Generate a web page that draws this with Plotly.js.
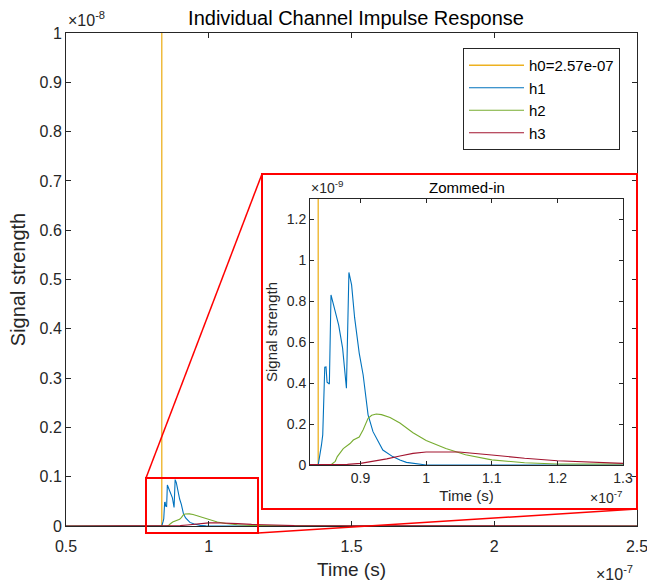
<!DOCTYPE html>
<html>
<head>
<meta charset="utf-8">
<script src="https://cdn.plot.ly/plotly-3.0.1.min.js"></script>
<style>html,body{margin:0;padding:0;background:#fff}#chart{width:647px;height:584px}</style>
</head>
<body>
<div id="chart"></div>
<script>
// Time in units of 1e-7 s, amplitudes in units of 1e-9
const h0Time = 0.8355;
const h0Value = 257;            // h0 = 2.57e-07
const h0Label = 'h0=2.57e-07';

const h1Time = [0.5, 0.8355, 0.8405, 0.8424, 0.8455, 0.8474, 0.8490, 0.8525, 0.8550, 0.8560, 0.8600, 0.8667, 0.8727, 0.8785, 0.8823, 0.8864, 0.8910, 0.8980, 0.9040, 0.9115, 0.9190, 0.9290, 0.9340, 0.9490, 0.9600, 0.9700, 0.9900, 1.0000, 2.5];
const h1Val  = [0, 0, 0.098, 0.147, 0.478, 0.479, 0.405, 0.396, 0.831, 0.818, 0.765, 0.684, 0.571, 0.375, 0.941, 0.880, 0.720, 0.547, 0.440, 0.245, 0.163, 0.098, 0.073, 0.041, 0.024, 0.013, 0.003, 0, 0];

const h2Time = [0.5, 0.848, 0.856, 0.8615, 0.8646, 0.8737, 0.884, 0.889, 0.898, 0.904, 0.9115, 0.917, 0.924, 0.932, 0.945, 0.96, 0.98, 1.0, 1.03, 1.06, 1.1, 1.15, 1.2, 1.3, 1.45, 1.7, 2.5];
const h2Val  = [0, 0, 0.004, 0.018, 0.041, 0.080, 0.105, 0.122, 0.137, 0.172, 0.228, 0.243, 0.249, 0.246, 0.232, 0.205, 0.158, 0.120, 0.081, 0.050, 0.025, 0.011, 0.005, 0.002, 0.001, 0, 0];

const h3Time = [0.5, 0.86, 0.88, 0.9, 0.925, 0.94, 0.96, 0.98, 1.0, 1.025, 1.05, 1.1, 1.15, 1.2, 1.25, 1.3, 1.4, 1.6, 2.0, 2.5];
const h3Val  = [0, 0.001, 0.003, 0.008, 0.020, 0.030, 0.044, 0.057, 0.0635, 0.065, 0.0635, 0.049, 0.033, 0.021, 0.013, 0.008, 0.004, 0.001, 0, 0];

const seriesNames = ['h1', 'h2', 'h3'];
const seriesColors = ['#0072BD', '#77AC30', '#A2142F'];
const h0Color = '#EDB120';

// Tick labels
const mainXTicks = [0.5, 1, 1.5, 2, 2.5];
const mainXText  = ['0.5', '1', '1.5', '2', '2.5'];
const mainYTicks = [0, 0.1, 0.2, 0.3, 0.4, 0.5, 0.6, 0.7, 0.8, 0.9, 1];
const mainYText  = ['0', '0.1', '0.2', '0.3', '0.4', '0.5', '0.6', '0.7', '0.8', '0.9', '1'];
const insetXTicks = [0.9, 1, 1.1, 1.2, 1.3];
const insetXText  = ['0.9', '1', '1.1', '1.2', '1.3'];
const insetYTicks = [0, 0.2, 0.4, 0.6, 0.8, 1, 1.2];
const insetYText  = ['0', '0.2', '0.4', '0.6', '0.8', '1', '1.2'];

const F = 'Liberation Sans, Arial, Helvetica, sans-serif';
const TC = '#262626';

const times = [h1Time, h2Time, h3Time];
const vals = [h1Val, h2Val, h3Val];

const traces = [];
// main axes (y shown in units of 1e-8)
traces.push({x: [h0Time, h0Time], y: [0, h0Value / 10], type: 'scatter', mode: 'lines', name: h0Label,
  line: {color: h0Color, width: 1.3}, xaxis: 'x', yaxis: 'y'});
for (let i = 0; i < 3; i++) {
  traces.push({x: times[i], y: vals[i].map(v => v / 10), type: 'scatter', mode: 'lines', name: seriesNames[i],
    line: {color: seriesColors[i], width: 1.1}, xaxis: 'x', yaxis: 'y'});
}
// inset axes (y in units of 1e-9)
traces.push({x: [h0Time, h0Time], y: [0, h0Value], type: 'scatter', mode: 'lines', showlegend: false,
  line: {color: h0Color, width: 1.3}, xaxis: 'x2', yaxis: 'y2'});
for (let i = 0; i < 3; i++) {
  traces.push({x: times[i], y: vals[i], type: 'scatter', mode: 'lines', showlegend: false,
    line: {color: seriesColors[i], width: 1.1}, xaxis: 'x2', yaxis: 'y2'});
}

function axis(extra) {
  return Object.assign({
    showline: true, linecolor: TC, linewidth: 1, mirror: 'ticks',
    ticks: 'inside', ticklen: 5, tickcolor: TC, tickwidth: 1,
    showgrid: false, zeroline: false, fixedrange: true,
    tickmode: 'array', ticklabeloverflow: 'allow',
    tickfont: {family: F, size: 16, color: TC}
  }, extra);
}

// plot area: x 66..637, y 33..526 (pixels)
const L = 66, R = 637, T = 33, B = 526, W = 647, H = 584;
const px = v => (v - L) / (R - L);
const py = v => (B - v) / (B - T);

const redLine = {color: '#FF0000', width: 2};

const layout = {
  width: W, height: H,
  margin: {l: L, r: W - R, t: T, b: H - B},
  paper_bgcolor: '#fff', plot_bgcolor: '#fff',
  showlegend: true,
  title: {text: 'Individual Channel Impulse Response', font: {family: F, size: 20, color: '#000'},
    x: px(356), xref: 'paper', xanchor: 'center', y: 1 - 18 / H, yref: 'container', yanchor: 'middle'},
  xaxis: axis({domain: [0, 1], range: [0.5, 2.5], anchor: 'y', tickvals: mainXTicks, ticktext: mainXText,
    ticklabelstandoff: 6,
    title: {text: 'Time (s)', font: {family: F, size: 19, color: TC}, standoff: 8}}),
  yaxis: axis({domain: [0, 1], range: [0, 1], anchor: 'x', tickvals: mainYTicks, ticktext: mainYText,
    title: {text: 'Signal strength', font: {family: F, size: 20, color: TC}, standoff: 8}}),
  xaxis2: axis({domain: [px(310), px(623)], range: [0.823, 1.3], anchor: 'y2', ticklen: 4,
    tickvals: insetXTicks, ticktext: insetXText, tickfont: {family: F, size: 14, color: TC},
    title: {text: 'Time (s)', font: {family: F, size: 15, color: TC}, standoff: 5}}),
  yaxis2: axis({domain: [py(465), py(199)], range: [0, 1.3], anchor: 'x2', ticklen: 4,
    tickvals: insetYTicks, ticktext: insetYText, tickfont: {family: F, size: 14, color: TC},
    title: {text: 'Signal strength', font: {family: F, size: 15, color: TC}, standoff: 5}}),
  legend: {x: px(463), y: py(48), xanchor: 'left', yanchor: 'top', xref: 'paper', yref: 'paper',
    itemwidth: 55,
    bgcolor: '#fff', bordercolor: TC, borderwidth: 1, font: {family: F, size: 15, color: '#000'}},
  shapes: [
    {type: 'rect', xref: 'paper', yref: 'paper', x0: px(146), x1: px(258), y0: py(533), y1: py(478), line: redLine},
    {type: 'rect', xref: 'paper', yref: 'paper', x0: px(262), x1: px(637), y0: py(509), y1: py(174), line: redLine},
    {type: 'line', xref: 'paper', yref: 'paper', x0: px(146), y0: py(478), x1: px(262), y1: py(174), line: {color: '#FF0000', width: 1.5}},
    {type: 'line', xref: 'paper', yref: 'paper', x0: px(258), y0: py(533), x1: px(637), y1: py(509), line: {color: '#FF0000', width: 1.5}}
  ],
  annotations: [
    {text: 'Zommed-in', xref: 'paper', yref: 'paper', x: px(467), y: py(187), xanchor: 'center', yanchor: 'middle',
      showarrow: false, font: {family: F, size: 15, color: '#000'}},
    {text: '×10<sup>-8</sup>', xref: 'paper', yref: 'paper', x: px(66), y: py(31), xanchor: 'left', yanchor: 'bottom',
      showarrow: false, font: {family: F, size: 16, color: TC}},
    {text: '×10<sup>-7</sup>', xref: 'paper', yref: 'paper', x: px(635), y: py(585), xanchor: 'right', yanchor: 'bottom',
      showarrow: false, font: {family: F, size: 16, color: TC}},
    {text: '×10<sup>-9</sup>', xref: 'paper', yref: 'paper', x: px(309), y: py(198), xanchor: 'left', yanchor: 'bottom',
      showarrow: false, font: {family: F, size: 14, color: TC}},
    {text: '×10<sup>-7</sup>', xref: 'paper', yref: 'paper', x: px(624), y: py(508), xanchor: 'right', yanchor: 'bottom',
      showarrow: false, font: {family: F, size: 14, color: TC}}
  ]
};

Plotly.newPlot('chart', traces, layout, {displayModeBar: false, staticPlot: true});
</script>
</body>
</html>
